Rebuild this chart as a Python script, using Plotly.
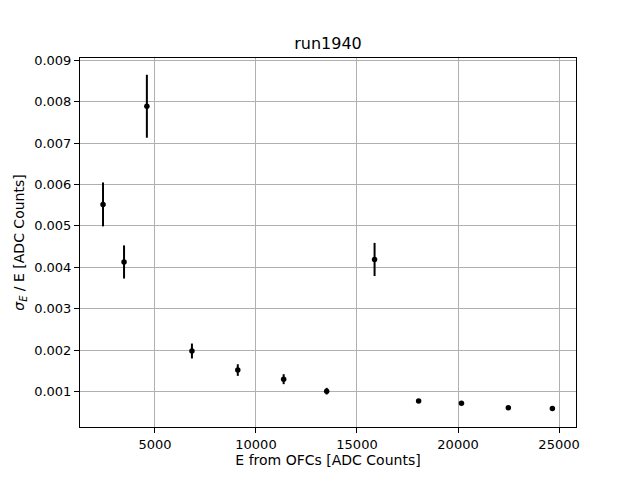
import plotly.graph_objects as go

energy = [2430, 3470, 4600, 6830, 9100, 11370, 13500, 15870, 18050, 20170, 22490, 24670]
resolution = [0.00552, 0.00413, 0.00789, 0.00198, 0.00152, 0.00130, 0.00101, 0.00419, 0.00077, 0.00072, 0.00061, 0.00059]
resolution_err = [0.00053, 0.00040, 0.00076, 0.00018, 0.00014, 0.00012, 0.00008, 0.00040, 0.00003, 0.00003, 0.00002, 0.00002]

y_ticks = [0.001, 0.002, 0.003, 0.004, 0.005, 0.006, 0.007, 0.008, 0.009]
x_ticks = [5000, 10000, 15000, 20000, 25000]

fig = go.Figure()
fig.add_trace(go.Scatter(
    x=energy, y=resolution, mode="markers",
    marker=dict(color="black", size=5.5),
    error_y=dict(type="data", array=resolution_err, visible=True,
                 color="black", thickness=2, width=0),
    showlegend=False,
))

font = "DejaVu Sans"
fig.update_layout(
    width=640, height=480,
    margin=dict(l=72, r=72, t=50, b=61),
    paper_bgcolor="white", plot_bgcolor="white",
    font=dict(family=font, size=13, color="black"),
    title=dict(text="run1940", x=0.5, xref="paper", xanchor="center",
               y=1 - 35 / 480, yanchor="middle", font=dict(size=16)),
)
fig.update_xaxes(
    range=[1290, 25840], tickvals=x_ticks, ticktext=[str(v) for v in x_ticks],
    showgrid=True, gridcolor="#b0b0b0", gridwidth=1,
    showline=True, linecolor="black", linewidth=1, mirror=True,
    ticks="outside", ticklen=5, tickcolor="black", zeroline=False,
    tickfont=dict(size=13), automargin=False,
    title=dict(text="E from OFCs [ADC Counts]", standoff=4, font=dict(size=14)),
)
fig.update_yaxes(
    range=[0.000145, 0.009055], tickvals=y_ticks, ticktext=[f"{v:.3f}" for v in y_ticks],
    showgrid=True, gridcolor="#b0b0b0", gridwidth=1,
    showline=True, linecolor="black", linewidth=1, mirror=True,
    ticks="outside", ticklen=5, tickcolor="black", zeroline=False,
    tickfont=dict(size=13), automargin=False,
    title=dict(text="<i>σ<sub>E</sub></i> / E [ADC Counts]", standoff=6, font=dict(size=14)),
)

fig.write_html("out.html")
